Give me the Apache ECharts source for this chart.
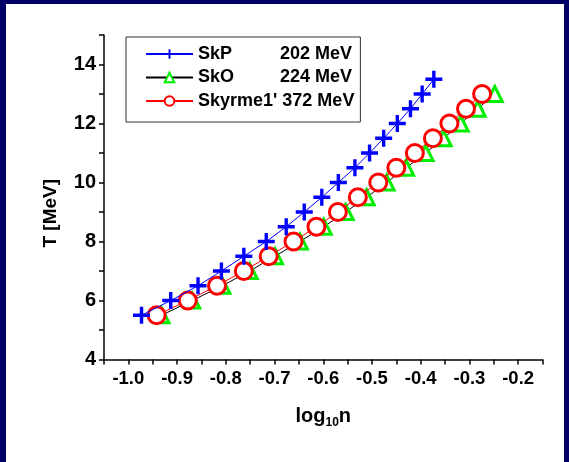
<!DOCTYPE html>
<html><head><meta charset="utf-8">
<script src="https://cdn.jsdelivr.net/npm/echarts@6/dist/echarts.min.js"></script>
<style>
html,body{margin:0;padding:0;background:#000066;width:569px;height:462px;overflow:hidden}
#c{position:absolute;left:6px;top:4px;width:558px;height:458px;background:#fff}
</style></head>
<body><div id="c"></div>
<script>
const skpX = [-0.973,-0.913,-0.857,-0.809,-0.763,-0.717,-0.676,-0.639,-0.603,-0.569,-0.535,-0.505,-0.476,-0.448,-0.421,-0.397,-0.373];
const skpT = [5.5,6.0,6.5,7.0,7.5,8.0,8.5,9.0,9.5,10.0,10.5,11.0,11.5,12.0,12.5,13.0,13.5];
const skoX = [-0.932,-0.869,-0.807,-0.751,-0.699,-0.648,-0.599,-0.554,-0.511,-0.470,-0.430,-0.390,-0.353,-0.318,-0.283,-0.248];
const skoT = [5.5,6.0,6.5,7.0,7.5,8.0,8.5,9.0,9.5,10.0,10.5,11.0,11.5,12.0,12.5,13.0];
const sky1X = [-0.942,-0.878,-0.818,-0.763,-0.712,-0.661,-0.614,-0.570,-0.529,-0.487,-0.450,-0.412,-0.375,-0.341,-0.307,-0.274];
const sky1T = [5.5,6.0,6.5,7.0,7.5,8.0,8.5,9.0,9.5,10.0,10.5,11.0,11.5,12.0,12.5,13.0];
const seriesNames = ['SkP','SkO',"Skyrme1'"];
const seriesEnergy = ['202 MeV','224 MeV','372 MeV'];

const zip = (a,b) => a.map((v,i)=>[v,b[i]]);
const plusPath = 'path://M4,0h2v4h4v2h-4v4h-2v-4h-4v-2h4z';
const font = 'Liberation Sans, Arial, sans-serif';

const chart = echarts.init(document.getElementById('c'));
chart.setOption({
  animation:false,
  backgroundColor:'#fff',
  grid:{left:98, top:31, right:21.5, bottom:102.5},
  legend:{
    orient:'vertical', left:120, top:33,
    data:[seriesNames[0],seriesNames[1],seriesNames[2]],
    borderColor:'#333', borderWidth:1,
    padding:[8,6,12,19],
    itemWidth:47, itemHeight:12, itemGap:5.5,
    textStyle:{fontFamily:font, fontWeight:'bold', fontSize:18, color:'#000', lineHeight:18,
      rich:{
        n:{fontFamily:font, fontWeight:'bold', fontSize:18, color:'#000', width:81},
        e:{fontFamily:font, fontWeight:'bold', fontSize:18, color:'#000', width:73, align:'right'},
        f:{fontFamily:font, fontWeight:'bold', fontSize:18, color:'#000'}
      }},
    formatter: name => {
      const i = seriesNames.indexOf(name);
      if (i === 2) return '{f|' + name + ' ' + seriesEnergy[i] + '}';
      return '{n|' + name + '}{e|' + seriesEnergy[i] + '}';
    }
  },
  xAxis:{
    type:'value', min:-1.05, max:-0.15, interval:0.05,
    name:'{a|log}{s|10}{a|n}', nameLocation:'middle', nameGap:44,
    nameTextStyle:{rich:{
      a:{fontFamily:font, fontWeight:'bold', fontSize:20, color:'#000'},
      s:{fontFamily:font, fontWeight:'bold', fontSize:12, color:'#000', padding:[13,0,0,0]}
    }},
    axisLine:{lineStyle:{color:'#000', width:1.5}},
    axisTick:{inside:false, length:5, lineStyle:{color:'#000', width:1.5}},
    splitLine:{show:false},
    axisLabel:{margin:10, color:'#000', fontFamily:font, fontWeight:'bold', fontSize:18.5,
      formatter: v => { const r = Math.round(v*100); return (r % 10 === 0) ? v.toFixed(1) : ''; }}
  },
  yAxis:{
    type:'value', min:4, max:15, interval:1,
    name:'T [MeV]', nameLocation:'middle', nameGap:44,
    nameTextStyle:{fontFamily:font, fontWeight:'bold', fontSize:19, color:'#000', padding:[0,32,0,0]},
    axisLine:{lineStyle:{color:'#000', width:1.5}},
    axisTick:{inside:false, length:5, lineStyle:{color:'#000', width:1.5}},
    splitLine:{show:false},
    axisLabel:{margin:8, color:'#000', fontFamily:font, fontWeight:'bold', fontSize:20,
      formatter: v => (Math.round(v) % 2 === 0) ? String(Math.round(v)) : ''}
  },
  series:[
    {name:seriesNames[1], type:'line', data:zip(skoX,skoT), z:2,
     symbol:'triangle', symbolSize:15,
     lineStyle:{color:'#000', width:1},
     itemStyle:{color:'#fff', borderColor:'#00ee00', borderWidth:3}},
    {name:seriesNames[2], type:'line', data:zip(sky1X,sky1T), z:3,
     symbol:'circle', symbolSize:17,
     lineStyle:{color:'#ff0000', width:1},
     itemStyle:{color:'#fff', borderColor:'#ff0000', borderWidth:3}},
    {name:seriesNames[0], type:'line', data:zip(skpX,skpT), z:4,
     symbol:plusPath, symbolSize:17,
     lineStyle:{color:'#0000ff', width:1},
     itemStyle:{color:'#0000ff', borderWidth:0}}
  ]
});
</script></body></html>
